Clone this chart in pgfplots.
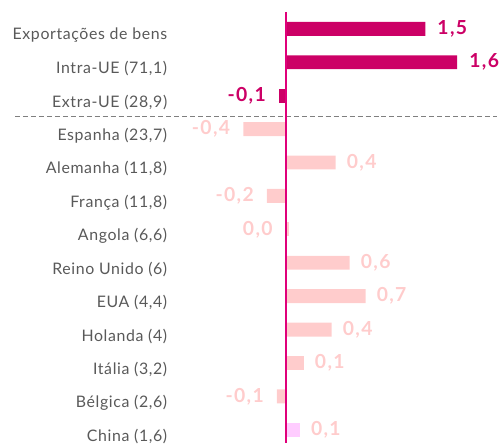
\documentclass[border=0pt]{standalone}
\usepackage{pgfplots}
\pgfplotsset{compat=1.18}
\usepackage{pgfplotstable}
\usepackage{fontspec}
\setmainfont{Lato}
\newfontfamily\labfont[LetterSpace=4]{Lato}
\newfontfamily\valfont[LetterSpace=7]{Lato}
\definecolor{dark}{HTML}{CC0066}
\definecolor{light}{HTML}{FFCCCC}
\definecolor{lilac}{HTML}{FFCCFF}
\definecolor{zline}{HTML}{E0007A}
\definecolor{txt}{HTML}{595959}
\definecolor{dashgray}{HTML}{7F7F7F}
\pgfplotstableread{
i v lab
0 1.308 1,5
1 1.607 1,6
}\darkpos
\pgfplotstableread{
i v lab
2 -0.065 -0,1
}\darkneg
\pgfplotstableread{
i v lab
4 0.467 0,4
7 0.598 0,6
8 0.748 0,7
9 0.430 0,4
10 0.168 0,1
}\lightpos
\pgfplotstableread{
i v lab
3 -0.400 -0,4
5 -0.178 -0,2
6 -0.001 0,0
11 -0.084 -0,1
}\lightneg
\pgfplotstableread{
i v lab
12 0.131 0,1
}\china
\begin{document}
\begin{tikzpicture}
\begin{axis}[
 scale only axis, width=499bp, height=445bp,
 xmin=-2.682, xmax=1.981, ymin=-0.864, ymax=12.40,
 y dir=reverse,
 axis line style={draw=none},
 xtick=\empty,
 ytick={0,...,12},
 yticklabels={{Exportações de bens},{Intra-UE (71,1)},{Extra-UE (28,9)},{Espanha (23,7)},{Alemanha (11,8)},{França (11,8)},{Angola (6,6)},{Reino Unido (6)},{EUA (4,4)},{Holanda (4)},{Itália (3,2)},{Bélgica (2,6)},{China (1,6)}},
 major tick length=0pt,
 yticklabel style={anchor=east, inner sep=0pt, xshift=168bp, yshift=-6.5bp, font=\labfont\fontsize{16}{17}\selectfont, text=txt},
 clip=false,
 bar width=14bp,
 point meta=explicit symbolic,
]
\addplot[xbar, bar shift=0pt, fill=dark, draw=none, nodes near coords, nodes near coords align={right},
  every node near coord/.append style={inner sep=0pt, xshift=12bp, text=dark, font=\valfont\fontsize{19.5}{20}\selectfont\bfseries}]
  table[x=v, y=i, meta=lab] {\darkpos};
\addplot[xbar, bar shift=0pt, fill=dark, draw=none, nodes near coords, nodes near coords align={left},
  every node near coord/.append style={inner sep=0pt, xshift=-13bp, text=dark, font=\valfont\fontsize{19.5}{20}\selectfont\bfseries}]
  table[x=v, y=i, meta=lab] {\darkneg};
\addplot[xbar, bar shift=0pt, fill=light, draw=none, nodes near coords, nodes near coords align={right},
  every node near coord/.append style={inner sep=0pt, xshift=11bp, text=light, font=\valfont\fontsize{19.5}{20}\selectfont\bfseries}]
  table[x=v, y=i, meta=lab] {\lightpos};
\addplot[xbar, bar shift=0pt, fill=light, draw=none, nodes near coords, nodes near coords align={left},
  every node near coord/.append style={inner sep=0pt, xshift=-13bp, text=light, font=\valfont\fontsize{19.5}{20}\selectfont\bfseries}]
  table[x=v, y=i, meta=lab] {\lightneg};
\addplot[xbar, bar shift=0pt, fill=light, draw=none] coordinates {(0.03,6)};
\addplot[xbar, bar shift=0pt, fill=lilac, draw=none, nodes near coords, nodes near coords align={right},
  every node near coord/.append style={inner sep=0pt, xshift=11bp, text=light, font=\valfont\fontsize{19.5}{20}\selectfont\bfseries}]
  table[x=v, y=i, meta=lab] {\china};
\draw[dashgray, line width=1.3bp, dash pattern=on 5bp off 3bp] (axis cs:-2.542,2.62) -- (axis cs:1.981,2.62);
\draw[zline, line width=2bp] (axis cs:0,-0.507) -- (axis cs:0,12.40);
\end{axis}
\end{tikzpicture}
\end{document}
